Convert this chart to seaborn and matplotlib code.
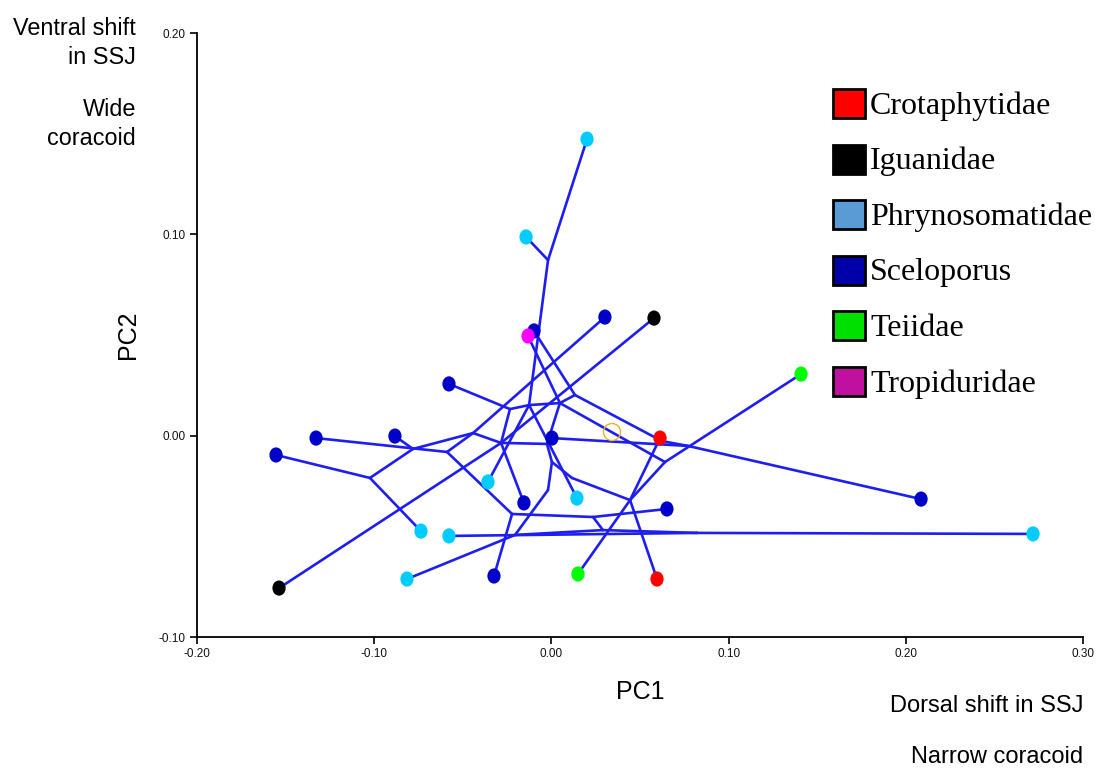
import numpy as np
import pandas as pd
import matplotlib
matplotlib.use("Agg")
import matplotlib.pyplot as plt
import seaborn as sns
from matplotlib.collections import LineCollection
from matplotlib.patches import Rectangle
from matplotlib.path import Path
from matplotlib.markers import MarkerStyle

# ---------------- data ----------------
tip_names = [f"t{i}" for i in range(1, 28)]
tip_x = [0.0201, -0.0143, -0.0098, -0.0132, 0.0302, 0.0579, 0.1409, -0.0578, -0.1328,
         -0.0883, -0.1554, 0.0003, 0.0342, 0.0613, -0.0358, 0.0144, -0.0155, 0.0652,
         0.2086, -0.0736, -0.0578, 0.2718, -0.0815, -0.0324, 0.0150, 0.0596, -0.1537]
tip_y = [0.1473, 0.0987, 0.0520, 0.0495, 0.0589, 0.0584, 0.0306, 0.0257, -0.0012,
         -0.0002, -0.0096, -0.0012, 0.0018, -0.0012, -0.0230, -0.0310, -0.0334, -0.0364,
         -0.0315, -0.0474, -0.0498, -0.0488, -0.0712, -0.0697, -0.0687, -0.0712, -0.0757]
tip_group = ["Phrynosomatidae", "Phrynosomatidae", "Sceloporus", "Tropiduridae", "Sceloporus",
             "Iguanidae", "Teiidae", "Sceloporus", "Sceloporus", "Sceloporus", "Sceloporus",
             "Sceloporus", "Root", "Crotaphytidae", "Phrynosomatidae", "Phrynosomatidae",
             "Sceloporus", "Sceloporus", "Sceloporus", "Phrynosomatidae", "Phrynosomatidae",
             "Phrynosomatidae", "Phrynosomatidae", "Sceloporus", "Teiidae", "Crotaphytidae",
             "Iguanidae"]

node_names = ["T1", "U", "F", "G", "E", "D", "B", "C", "A", "V", "H", "J1", "J", "K",
              "L", "M", "R0", "R", "N", "O", "P", "Q", "W"]
node_x = [-0.0019, -0.0126, 0.0133, 0.0048, -0.0234, -0.0442, -0.0781, -0.0589, -0.1024,
          -0.0284, -0.0025, 0.0003, -0.0019, 0.0116, 0.0444, 0.0641, 0.0624, 0.0771,
          -0.0222, 0.0235, 0.0291, -0.0205, 0.0822]
node_y = [0.0872, 0.0152, 0.0202, 0.0162, 0.0132, 0.0013, -0.0066, -0.0081, -0.0210,
          -0.0036, -0.0041, -0.0131, -0.0270, -0.0210, -0.0320, -0.0131, -0.0027, -0.0051,
          -0.0389, -0.0404, -0.0469, -0.0493, -0.0483]

edges = [("t1", "T1"), ("t2", "T1"), ("T1", "U"), ("U", "t15"), ("U", "t16"),
         ("t3", "F"), ("t4", "G"), ("G", "M"), ("F", "R0"), ("R0", "R"), ("t12", "R"),
         ("R", "t19"), ("M", "t7"), ("M", "L"), ("L", "t26"), ("t14", "L"), ("L", "t25"),
         ("K", "L"), ("J1", "K"), ("H", "J1"), ("G", "H"), ("J1", "J"), ("J", "Q"),
         ("t23", "Q"), ("t21", "W"), ("Q", "P"), ("P", "W"), ("W", "t22"), ("O", "P"),
         ("N", "O"), ("O", "t18"), ("N", "t24"), ("C", "N"), ("t9", "C"), ("t10", "B"),
         ("t11", "A"), ("A", "t20"), ("A", "B"), ("B", "D"), ("C", "D"), ("D", "t5"),
         ("t8", "E"), ("E", "U"), ("U", "G"), ("F", "G"), ("E", "V"), ("D", "V"),
         ("V", "H"), ("t27", "V"), ("V", "t6"), ("V", "t17")]

legend_labels = ["Crotaphytidae", "Iguanidae", "Phrynosomatidae", "Sceloporus", "Teiidae",
                 "Tropiduridae"]
legend_colors = ["#FF0000", "#000000", "#5B9BD5", "#0000A8", "#00E000", "#C010A0"]
point_colors = {"Crotaphytidae": "#FF0000", "Iguanidae": "#000000",
                "Phrynosomatidae": "#00CCFF", "Sceloporus": "#0000C8",
                "Teiidae": "#00FF00", "Tropiduridae": "#FF00FF"}

x_ticks = [-0.20, -0.10, 0.00, 0.10, 0.20, 0.30]
y_ticks = [-0.10, 0.00, 0.10, 0.20]

# ---------------- figure ----------------
sns.set_theme(style="white")
plt.rcParams["font.family"] = ["Liberation Sans", "DejaVu Sans"]
plt.rcParams["text.color"] = "black"

W, H = 1102, 770
fig = plt.figure(figsize=(W / 100, H / 100), dpi=100)
ax = fig.add_axes([197 / W, 1 - 637 / H, (1083 - 197) / W, (637 - 33) / H])
ax.set_xlim(-0.20, 0.30)
ax.set_ylim(-0.10, 0.20)

pos = {n: (x, y) for n, x, y in zip(tip_names, tip_x, tip_y)}
pos.update({n: (x, y) for n, x, y in zip(node_names, node_x, node_y)})
segs = [[pos[a], pos[b]] for a, b in edges]
ax.add_collection(LineCollection(segs, colors="#1E1EF0", linewidths=1.9, zorder=2,
                                 capstyle="round", joinstyle="round"))

df = pd.DataFrame({"x": tip_x, "y": tip_y, "group": tip_group})
circ = Path.unit_circle()
ell = Path(circ.vertices * np.array([0.87, 1.0]), circ.codes)
marker = MarkerStyle(ell)
tips = df[df.group != "Root"]
sns.scatterplot(data=tips, x="x", y="y", hue="group", palette=point_colors, marker=marker,
                s=120, linewidth=0, legend=False, ax=ax, zorder=3)
root = df[df.group == "Root"]
sns.scatterplot(data=root, x="x", y="y", marker="o", s=150, facecolors="none",
                edgecolor="#F0B020", linewidth=1.0, legend=False, ax=ax, zorder=3)

sns.despine(ax=ax)
for s in ["left", "bottom"]:
    ax.spines[s].set_color("black")
    ax.spines[s].set_linewidth(1.3)
ax.set_xticks(x_ticks)
ax.set_yticks(y_ticks)
ax.set_xticklabels([f"{v:.2f}" for v in x_ticks])
ax.set_yticklabels([f"{v:.2f}" for v in y_ticks])
ax.tick_params(axis="both", direction="out", length=5, width=1.2, color="black",
               labelsize=8, labelcolor="#111111", pad=3, bottom=True, left=True)
for lab in ax.get_xticklabels() + ax.get_yticklabels():
    lab.set_family(["Liberation Sans Narrow", "Liberation Sans", "DejaVu Sans"])
    lab.set_fontsize(8.5)
ax.set_xlabel("")
ax.set_ylabel("")
ax.grid(False)

fig.text(640 / W, 1 - 692 / H, "PC1", ha="center", va="center", fontsize=18, color="black")
fig.text(128 / W, 1 - 335 / H, "PC2", ha="center", va="center", fontsize=18, rotation=90,
         color="black")
fig.text(1083 / W, 1 - 706 / H, "Dorsal shift in SSJ", ha="right", va="center",
         fontsize=17, color="black")
fig.text(1083 / W, 1 - 757 / H, "Narrow coracoid", ha="right", va="center",
         fontsize=17, color="black")
fig.text(136 / W, 1 - 43 / H, "Ventral shift\nin SSJ", ha="right", va="center",
         fontsize=16.8, linespacing=1.32, color="black")
fig.text(136 / W, 1 - 124 / H, "Wide\ncoracoid", ha="right", va="center",
         fontsize=16.8, linespacing=1.32, color="black")

# legend
for i, (lab, col) in enumerate(zip(legend_labels, legend_colors)):
    cy = 103 + i * 55.6
    fig.patches.append(Rectangle((833 / W, 1 - (cy + 15) / H), 32 / W, 29 / H,
                                 transform=fig.transFigure, facecolor=col,
                                 edgecolor="black", linewidth=2, figure=fig))
    fig.text(870 / W, 1 - (cy + 3) / H, lab, ha="left", va="center", fontsize=23,
             family=["Liberation Serif", "DejaVu Serif"], color="black")

fig.savefig("out.png", dpi=100)
